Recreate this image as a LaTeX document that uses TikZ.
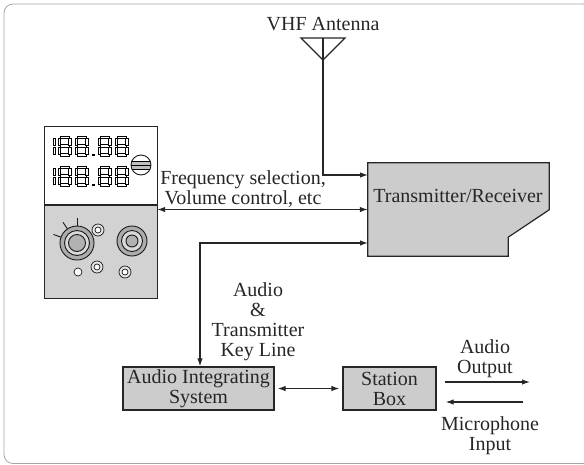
\documentclass[tikz,border=0pt]{standalone}
\usepackage{fontspec}
\setmainfont{Liberation Serif}
\usepackage{tikz}
\usetikzlibrary{arrows.meta,calc}

\tikzset{
  unit box/.style = {draw=black!85, fill=gray!40, line width=1.2pt, inner sep=0pt},
  sig/.style = {draw=black!85, line width=1.2pt, -{Latex[length=8pt,width=5.5pt]}},
  sigboth/.style = {sig, {Latex[length=8pt,width=5.5pt]}-{Latex[length=8pt,width=5.5pt]}},
  lbl/.style = {align=center, inner sep=0pt, text=black!85, font=\fontsize{20}{20}\selectfont},
  seg/.style = {draw=black, fill=white, line width=0.6pt},
  knob/.style = {draw=black!90, line width=0.9pt},
}

% seven segment digits, #1,#2 = top left corner
\newcommand{\lcdeight}[2]{%
  \draw[seg] (#1+2,#2) rectangle (#1+11,#2+2.5);
  \draw[seg] (#1+2,#2+8.75) rectangle (#1+11,#2+11.25);
  \draw[seg] (#1+2,#2+17.5) rectangle (#1+11,#2+20);
  \draw[seg] (#1,#2+2) rectangle (#1+2.5,#2+9);
  \draw[seg] (#1,#2+11) rectangle (#1+2.5,#2+18);
  \draw[seg] (#1+10.5,#2+2) rectangle (#1+13,#2+9);
  \draw[seg] (#1+10.5,#2+11) rectangle (#1+13,#2+18);
}
\newcommand{\lcdone}[2]{%
  \draw[seg] (#1,#2+2) rectangle (#1+2.5,#2+9);
  \draw[seg] (#1,#2+11) rectangle (#1+2.5,#2+18);
}

\begin{document}
\begin{tikzpicture}[x=1pt, y=-1pt]
\useasboundingbox (0,0) rectangle (584,464);
\draw[black!35, line width=0.8pt, rounded corners=9pt] (4,4) rectangle (592,463.5);

% antenna
\coordinate (ant) at (323,60);
\draw[black!85, line width=1.1pt] (301,38) -- (345,38) -- (ant) -- cycle;
\draw[black!85, line width=1.1pt] (323,38) -- (ant);
\node[lbl] (antlbl) at (323,24) {VHF Antenna};

% transmitter / receiver with the cut corner
\node[minimum width=181, minimum height=93, inner sep=0pt] (trx) at (458.5,209.5) {};
\filldraw[unit box] (trx.north west) -- (trx.north east) -- ($(trx.north east)+(0,47)$)
  -- ($(trx.south east)+(-41,-19)$) -- ($(trx.south east)+(-41,0)$) -- (trx.south west) -- cycle;
\node[lbl] (trxlbl) at (458,196) {Transmitter/Receiver};

% control head
\node[minimum width=112, minimum height=171, inner sep=0pt] (radio) at (101,212.5) {};
\fill[gray!35] (radio.west |- 0,205) rectangle (radio.south east);
\draw[black!85, line width=1.2pt] (radio.north west) rectangle (radio.south east);
\draw[black!85, line width=1.2pt] (radio.west |- 0,205) -- (radio.east |- 0,205);
\foreach \y in {136,166} {
  \lcdone{53}{\y}
  \lcdeight{58}{\y}
  \lcdeight{75}{\y}
  \fill (92,\y+17.5) rectangle +(2.5,2.5);
  \lcdeight{98}{\y}
  \lcdeight{115}{\y}
}
% squelch screw
\begin{scope}
  \clip (141,165) circle (10);
  \fill[white] (141,165) circle (10);
  \fill[gray!50] (131,161) rectangle (151,169);
  \draw[line width=0.9pt] (131,161) -- (151,161) (131,165) -- (151,165) (131,169) -- (151,169);
\end{scope}
\draw[knob] (141,165) circle (10);
% volume knob with marks
\draw[knob, fill=gray!65] (77,243) circle (17);
\draw[knob, fill=gray!30] (77,243) circle (12.5);
\draw[knob, fill=gray!60] (77,243) circle (8.5);
\foreach \a in {-90,-124,-160}
  \draw[knob] (77,243) ++(\a:17) -- ++(\a:8);
% channel knob
\draw[knob, fill=gray!65] (132,241) circle (15);
\draw[knob, fill=gray!30] (132,241) circle (10.5);
\draw[knob, fill=gray!60] (132,241) circle (6);
% small jacks
\foreach \x/\y in {98/230, 97/267, 125/272} {
  \draw[knob, line width=0.7pt, fill=gray!20] (\x,\y) circle (6);
  \draw[knob, line width=0.7pt, fill=white] (\x,\y) circle (3);
}
\draw[knob, line width=0.7pt, fill=white] (78,272) circle (4);

% lower boxes
\node[unit box, lbl, minimum width=151, minimum height=43] (ais) at (198.5,388.5) {Audio Integrating\\System};
\node[unit box, lbl, minimum width=93, minimum height=43] (stn) at (389.5,388.5) {Station\\Box};

% signal paths
\coordinate (rxin) at (368,175);
\coordinate (txin) at (368,243);
\coordinate (keyjn) at (200,243);
\coordinate (aout) at (530,382);
\coordinate (micin) at (523,402);
\draw[sig] (ant) |- (rxin);
\draw[sigboth] (radio.east |- trx.west) -- (trx.west);
\draw[sigboth] (txin) -- (keyjn) -- (keyjn |- ais.north);
\draw[sigboth, shorten <=3pt, shorten >=3pt] (ais) -- (stn);
\draw[sig, shorten <=8pt] (stn.east |- aout) -- (aout);
\draw[sig, shorten >=9pt] (micin) -- (stn.east |- micin);

\node[lbl] (ctllbl) at (243,189) {Frequency selection,\\Volume control, etc};
\node[lbl] (keylbl) at (258,322) {Audio\\\&\\Transmitter\\Key Line};
\node[lbl] (aoutlbl) at (485,359) {Audio\\Output};
\node[lbl] (micinlbl) at (490,435.5) {Microphone\\Input};
\end{tikzpicture}
\end{document}
